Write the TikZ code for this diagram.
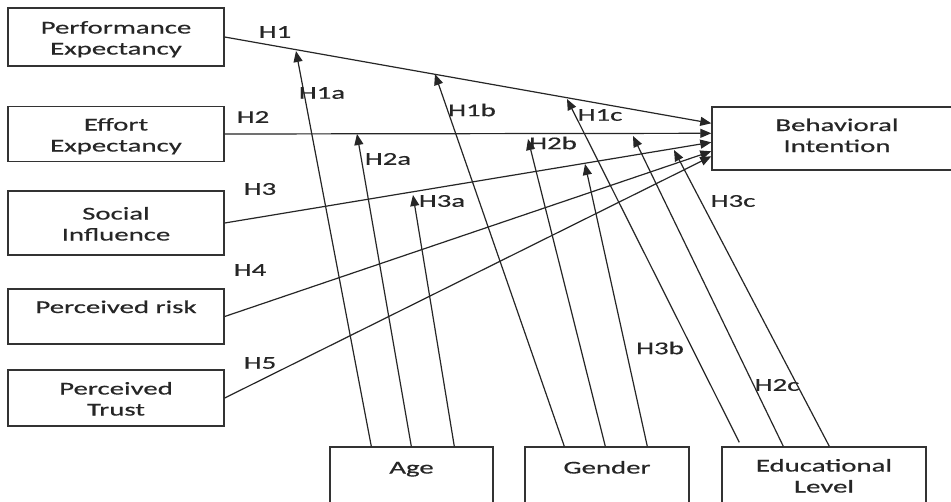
\documentclass[tikz,border=0pt]{standalone}
\usepackage{fontspec}
\setmainfont[FakeStretch=1.6,FakeBold=0.5]{Carlito}
\usetikzlibrary{arrows.meta,calc}
\begin{document}
\begin{tikzpicture}[x=1pt,y=-1pt,
 box/.style={draw=black!80, line width=1.4pt, fill=white, align=center, inner sep=0pt, font=\fontsize{18}{21}\selectfont, text=black!85, text height=38pt, text depth=3pt},
 lbl/.style={font=\fontsize{18}{21}\selectfont, text=black!85, inner sep=0pt},
 arr/.style={draw=black!85, line width=1.2pt, -{Triangle[length=11pt,width=9pt]}},
]
\useasboundingbox (0,0) rectangle (951,501);
\clip (0,0) rectangle (951,501);
\fill[white] (0,0) rectangle (951,501);
% boxes
\node[box, minimum width=216, minimum height=58] (pe) at (116,37) {Performance\\Expectancy};
\node[box, minimum width=216, minimum height=55] (ee) at (116,134) {Effort\\Expectancy};
\node[box, minimum width=216, minimum height=64] (si) at (116,223) {Social\\Influence};
\node[box, minimum width=216, minimum height=55] (pr) at (116,316.5) {Perceived risk\\\mbox{}};
\node[box, minimum width=216, minimum height=56] (pt) at (116,398) {Perceived\\Trust};
\node[box, minimum width=250, minimum height=63, text height=30pt] (bi) at (837,138.5) {Behavioral\\Intention};
\node[box, minimum width=163, minimum height=60] (age) at (411.5,477) {Age\\\mbox{}};
\node[box, minimum width=164, minimum height=60] (gen) at (607,477) {Gender\\\mbox{}};
\node[box, minimum width=204, minimum height=60, text height=34pt] (edu) at (824,477) {Educational\\Level};
% tips on BI
\coordinate (b1) at ($(bi.north west)+(0,17)$);
\coordinate (b2) at ($(bi.north west)+(0,27)$);
\coordinate (b3) at ($(bi.north west)+(0,36)$);
\coordinate (b4) at ($(bi.north west)+(0,45)$);
\coordinate (b5) at ($(bi.north west)+(0,50)$);
\draw[arr] (pe.east) -- (b1);
\draw[arr] (ee.east) -- (b2);
\draw[arr] (si.east) -- (b3);
\draw[arr] (pr.east) -- (b4);
\draw[arr] (pt.east) -- (b5);
% moderator tips
\coordinate (t1a) at (296,51);
\coordinate (t2a) at (357,134);
\coordinate (t3a) at (413,195);
\coordinate (t1b) at (435,74);
\coordinate (t2b) at (528,139);
\coordinate (t3b) at (585,164);
\coordinate (t1c) at (567,99);
\coordinate (t2c) at (633,136);
\coordinate (t3c) at (674,150);
\draw[arr] ($(age.north west)+(42,0)$) -- (t1a);
\draw[arr] ($(age.north west)+(82,0)$) -- (t2a);
\draw[arr] ($(age.north west)+(125,0)$) -- (t3a);
\draw[arr] ($(gen.north west)+(40,0)$) -- (t1b);
\draw[arr] ($(gen.north west)+(81,0)$) -- (t2b);
\draw[arr] ($(gen.north west)+(123,0)$) -- (t3b);
\draw[arr] ($(edu.north west)+(18,-4)$) -- (t1c);
\draw[arr] ($(edu.north west)+(62,0)$) -- (t2c);
\draw[arr] ($(edu.north west)+(108,0)$) -- (t3c);
% labels
\node[lbl] (l1) at (275,32) {H1};
\node[lbl] (l2) at (253,117) {H2};
\node[lbl] (l3) at (260,189) {H3};
\node[lbl] (l4) at (250,270) {H4};
\node[lbl] (l5) at (260,363) {H5};
\node[lbl] (l1a) at (322,93) {H1a};
\node[lbl] (l1b) at (472,110) {H1b};
\node[lbl] (l1c) at (600,115) {H1c};
\node[lbl] (l2a) at (388,159) {H2a};
\node[lbl] (l2b) at (553,143) {H2b};
\node[lbl] (l3a) at (442,201) {H3a};
\node[lbl] (l3b) at (660,348) {H3b};
\node[lbl] (l2c) at (777,385) {H2c};
\node[lbl] (l3c) at (733,201) {H3c};
\end{tikzpicture}
\end{document}
